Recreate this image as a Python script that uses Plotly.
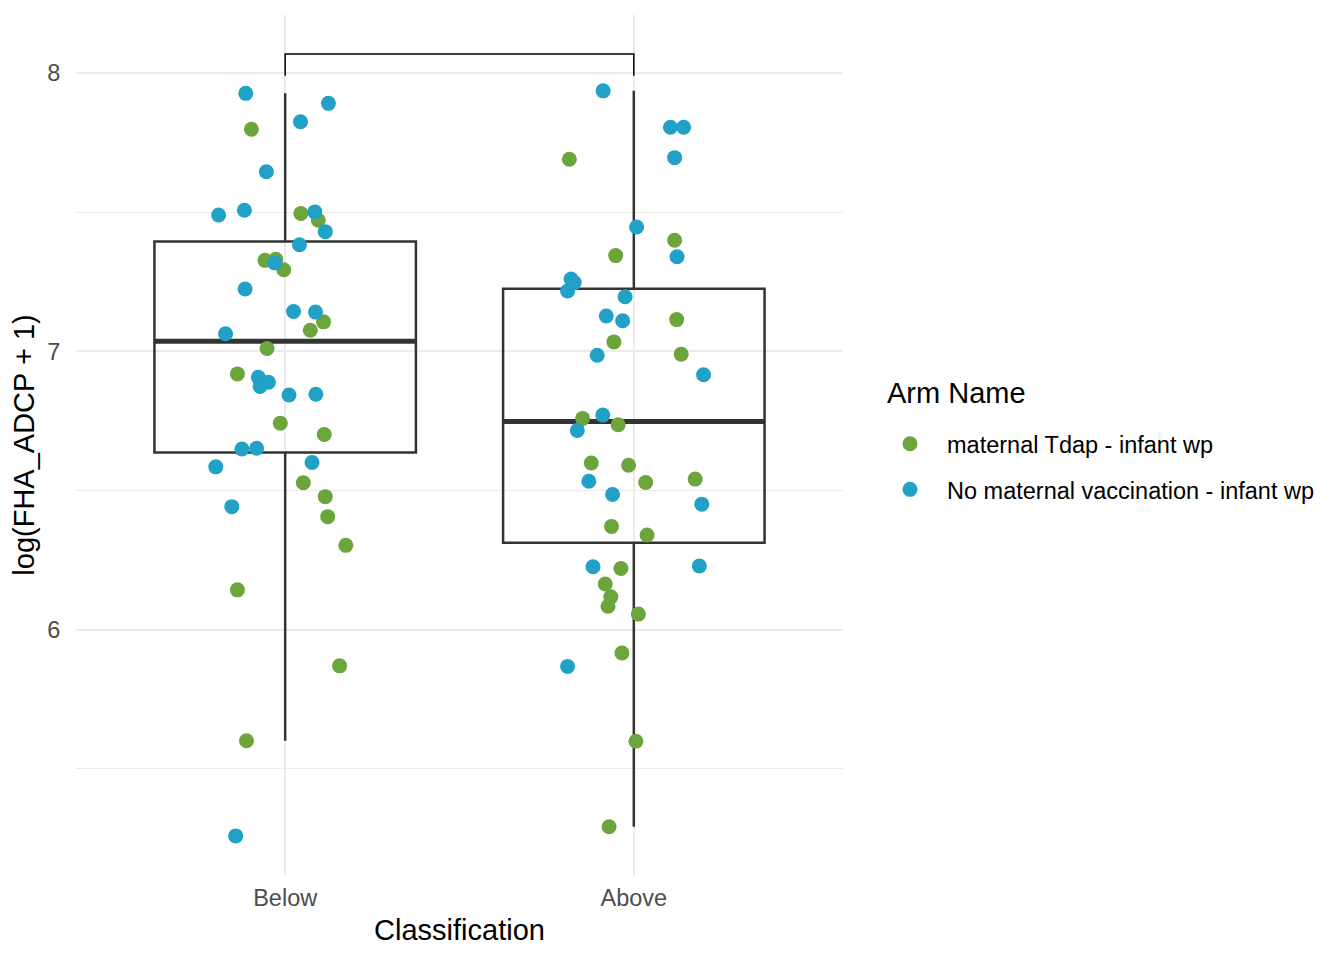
import numpy as np
import plotly.graph_objects as go

categories = ["Below", "Above"]
arm_names = ["maternal Tdap - infant wp", "No maternal vaccination - infant wp"]
arm_colors = ["#6BA53C", "#22A1C7"]
legend_title = "Arm Name"

# Below / maternal Tdap
below_tdap = [7.798, 7.495, 7.471, 7.327, 7.331, 7.293, 7.106, 7.076, 7.010, 6.919,
              6.742, 6.701, 6.528, 6.478, 6.406, 6.303, 6.143, 5.870, 5.601]
below_tdap_jitter = [-0.097, 0.045, 0.095, -0.058, -0.027, -0.004, 0.110, 0.072, -0.052, -0.137,
                     -0.014, 0.112, 0.052, 0.115, 0.122, 0.174, -0.137, 0.156, -0.111]
# Below / No maternal vaccination
below_none = [7.927, 7.891, 7.825, 7.645, 7.490, 7.507, 7.501, 7.430, 7.383, 7.318,
              7.224, 7.143, 7.141, 7.063, 6.907, 6.889, 6.874, 6.843, 6.846, 6.649,
              6.652, 6.585, 6.601, 6.442, 5.259]
below_none_jitter = [-0.113, 0.124, 0.044, -0.054, -0.191, -0.117, 0.085, 0.115, 0.041, -0.030,
                     -0.115, 0.024, 0.087, -0.171, -0.077, -0.048, -0.072, 0.011, 0.088, -0.124,
                     -0.082, -0.199, 0.077, -0.153, -0.142]
# Above / maternal Tdap
above_tdap = [7.690, 7.399, 7.344, 7.114, 7.034, 6.990, 6.759, 6.736, 6.599, 6.591,
              6.529, 6.541, 6.371, 6.340, 6.220, 6.164, 6.118, 6.084, 6.056, 5.916,
              5.599, 5.292]
above_tdap_jitter = [-0.185, 0.117, -0.052, 0.123, -0.057, 0.136, -0.147, -0.045, -0.122, -0.015,
                     0.034, 0.176, -0.064, 0.038, -0.037, -0.082, -0.066, -0.074, 0.013, -0.034,
                     0.006, -0.071]
# Above / No maternal vaccination
above_none = [7.936, 7.805, 7.805, 7.696, 7.447, 7.340, 7.260, 7.247, 7.217, 7.196,
              7.127, 7.110, 6.986, 6.916, 6.771, 6.716, 6.533, 6.486, 6.451, 6.226,
              6.229, 5.868]
above_none_jitter = [-0.088, 0.105, 0.143, 0.117, 0.008, 0.124, -0.180, -0.171, -0.190, -0.025,
                     -0.079, -0.032, -0.105, 0.200, -0.089, -0.162, -0.129, -0.061, 0.195, -0.117,
                     0.188, -0.190]

# significance bracket
bracket_y = 8.068
bracket_tip = 0.078

FONT = "Liberation Sans, Arial, Helvetica, sans-serif"
BOX_W = 0.75

groups = {
    "Below": [(below_tdap, below_tdap_jitter), (below_none, below_none_jitter)],
    "Above": [(above_tdap, above_tdap_jitter), (above_none, above_none_jitter)],
}

fig = go.Figure()

all_vals = []
for ci, cat in enumerate(categories):
    xpos = ci + 1
    vals = np.array(groups[cat][0][0] + groups[cat][1][0])
    all_vals.extend(vals.tolist())
    q1, med, q3 = np.percentile(vals, [25, 50, 75])
    iqr = q3 - q1
    lf = vals[vals >= q1 - 1.5 * iqr].min()
    uf = vals[vals <= q3 + 1.5 * iqr].max()
    fig.add_trace(go.Box(
        x=[xpos], q1=[q1], median=[med], q3=[q3], lowerfence=[lf], upperfence=[uf],
        width=BOX_W, whiskerwidth=0, boxpoints=False,
        line=dict(color="#333333", width=2.5), fillcolor="rgba(0,0,0,0)",
        showlegend=False, hoverinfo="skip",
    ))
    fig.add_trace(go.Scatter(
        x=[xpos - BOX_W / 2, xpos + BOX_W / 2], y=[med, med], mode="lines",
        line=dict(color="#333333", width=5), showlegend=False, hoverinfo="skip",
    ))

for ai, arm in enumerate(arm_names):
    xs, ys = [], []
    for ci, cat in enumerate(categories):
        v, j = groups[cat][ai]
        xs.extend([ci + 1 + jj for jj in j])
        ys.extend(v)
    fig.add_trace(go.Scatter(
        x=xs, y=ys, mode="markers", name=arm, legendgroup=arm,
        marker=dict(color=arm_colors[ai], size=15, line=dict(width=0)),
    ))

fig.add_trace(go.Scatter(
    x=[1, 1, 2, 2],
    y=[bracket_y - bracket_tip, bracket_y, bracket_y, bracket_y - bracket_tip],
    mode="lines", line=dict(color="black", width=1.5), showlegend=False, hoverinfo="skip",
))

ymin = min(all_vals)
ymax = bracket_y
pad = 0.05 * (ymax - ymin)

fig.update_layout(
    width=1344, height=960,
    margin=dict(l=68, r=509, t=7, b=93),
    paper_bgcolor="white", plot_bgcolor="white",
    font=dict(family=FONT, color="#4D4D4D"),
    xaxis=dict(
        range=[0.4, 2.6], tickvals=[1, 2], ticktext=categories,
        showgrid=True, gridcolor="#EBEBEB", gridwidth=2, zeroline=False, showline=False,
        ticks="outside", ticklen=2, tickcolor="rgba(0,0,0,0)",
        tickfont=dict(size=23.5, color="#4D4D4D"),
        title=dict(text="Classification", font=dict(size=29, color="black"), standoff=9),
    ),
    yaxis=dict(
        range=[ymin - pad, ymax + pad], tickvals=[6, 7, 8],
        showgrid=True, gridcolor="#EBEBEB", gridwidth=2, zeroline=False, showline=False,
        minor=dict(dtick=0.5, tick0=0, showgrid=True, gridcolor="#EBEBEB", gridwidth=1, ticks=""),
        ticks="outside", ticklen=10, tickcolor="rgba(0,0,0,0)",
        tickfont=dict(size=23.5, color="#4D4D4D"),
        title=dict(text="log(FHA_ADCP + 1)", font=dict(size=29, color="black"), standoff=5),
    ),
    legend=dict(
        x=1.0391, xanchor="left", y=0.4744, yanchor="middle",
        font=dict(size=23.5, color="black"),
        traceorder="grouped", tracegroupgap=12, itemwidth=64,
        bgcolor="rgba(0,0,0,0)",
    ),
    annotations=[dict(
        text=legend_title, xref="paper", yref="paper", x=1.0548, y=0.5605,
        xanchor="left", yanchor="middle", showarrow=False,
        font=dict(size=29, color="black", family=FONT),
    )],
)

fig.write_html("out.html")
